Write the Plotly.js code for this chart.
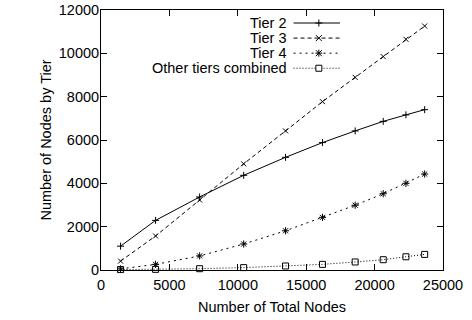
<!DOCTYPE html>
<html>
<head>
<meta charset="utf-8">
<script src="https://cdn.plot.ly/plotly-3.0.1.min.js"></script>
<style>html,body{margin:0;padding:0;background:#fff;}#chart{width:472px;height:320px;}</style>
</head>
<body>
<div id="chart"></div>
<script>
// ---- data ----
const totalNodes = [1430, 3990, 7210, 10430, 13490, 16190, 18580, 20630, 22290, 23660];
const tier2 = [1100, 2290, 3370, 4370, 5200, 5880, 6420, 6860, 7160, 7400];
const tier3 = [410, 1570, 3230, 4900, 6420, 7770, 8890, 9850, 10650, 11260];
const tier4 = [50, 260, 650, 1200, 1810, 2430, 2990, 3520, 4000, 4430];
const otherTiers = [20, 30, 60, 110, 185, 260, 370, 475, 610, 720];
const seriesNames = ['Tier 2', 'Tier 3', 'Tier 4', 'Other tiers combined'];
const xTicks = [0, 5000, 10000, 15000, 20000, 25000];
const yTicks = [0, 2000, 4000, 6000, 8000, 10000, 12000];

// ---- styles ----
const FONT = 'Liberation Sans, Arial, sans-serif';
const FS = 14.5;
const styles = [
  {dash: 'solid', symbol: 'cross-thin-open', size: 5, kind: 'plus'},
  {dash: '4px,3px', symbol: 'x-thin-open', size: 5, kind: 'x'},
  {dash: '2px,4px', symbol: 'asterisk-open', size: 6, kind: 'star'},
  {dash: '1px,2px', symbol: 'square-open', size: 6, kind: 'square'}
];
const values = [tier2, tier3, tier4, otherTiers];

const traces = values.map((ys, i) => ({
  x: totalNodes, y: ys, name: seriesNames[i], type: 'scatter', mode: 'lines+markers',
  line: {color: '#000', width: 1, dash: styles[i].dash},
  marker: {symbol: styles[i].symbol, size: styles[i].size, color: '#000', line: {color: '#000', width: 1}},
  showlegend: false, cliponaxis: false
}));

// ---- gnuplot-style key (text right, sample to the right) ----
const keyTextX = 0.549, keyLineX0 = 0.563, keyLineX1 = 0.699, keyMarkX = 0.637;
const keyRowY = [0.95, 0.892, 0.834, 0.776];
const shapes = [], annotations = [];
seriesNames.forEach((name, i) => {
  const y = keyRowY[i];
  annotations.push({xref: 'paper', yref: 'paper', x: keyTextX, y: y, xanchor: 'right', yanchor: 'middle',
    text: name, showarrow: false, font: {family: FONT, size: FS, color: '#000'}});
  shapes.push({type: 'line', xref: 'paper', yref: 'paper', x0: keyLineX0, x1: keyLineX1, y0: y, y1: y,
    line: {color: '#000', width: 1, dash: styles[i].dash}});
  const m = (x0, y0, x1, y1, type) => ({type: type || 'line', xref: 'paper', yref: 'paper',
    xsizemode: 'pixel', ysizemode: 'pixel', xanchor: keyMarkX, yanchor: y,
    x0: x0, x1: x1, y0: y0, y1: y1, line: {color: '#000', width: 1},
    fillcolor: type === 'rect' ? '#fff' : undefined});
  const k = styles[i].kind;
  if (k === 'plus' || k === 'star') { shapes.push(m(-3.5, 0, 3.5, 0)); shapes.push(m(0, -3.5, 0, 3.5)); }
  if (k === 'x' || k === 'star') { shapes.push(m(-3, -3, 3, 3)); shapes.push(m(-3, 3, 3, -3)); }
  if (k === 'square') { shapes.push(m(-3, -3, 3, 3, 'rect')); }
});

const axisCommon = {
  showline: true, linecolor: '#000', linewidth: 1, mirror: 'ticks',
  ticks: 'inside', ticklen: 6, tickcolor: '#000', tickwidth: 1,
  showgrid: false, zeroline: false, tickformat: 'd', automargin: false,
  tickfont: {family: FONT, size: FS, color: '#000'}
};

const layout = {
  width: 472, height: 320,
  margin: {l: 101, r: 29, t: 10, b: 50},
  paper_bgcolor: '#fff', plot_bgcolor: '#fff',
  font: {family: FONT, size: FS, color: '#000'},
  xaxis: Object.assign({}, axisCommon, {range: [0, 25000], tickvals: xTicks, ticklabelstandoff: 2,
    title: {text: 'Number of Total Nodes', font: {family: FONT, size: FS, color: '#000'}, standoff: 9}}),
  yaxis: Object.assign({}, axisCommon, {range: [0, 12000], tickvals: yTicks, ticklabelstandoff: -2,
    title: {text: 'Number of Nodes by Tier', font: {family: FONT, size: FS, color: '#000'}, standoff: 3}}),
  shapes: shapes, annotations: annotations, showlegend: false
};

Plotly.newPlot('chart', traces, layout, {displayModeBar: false, staticPlot: true});
</script>
</body>
</html>
